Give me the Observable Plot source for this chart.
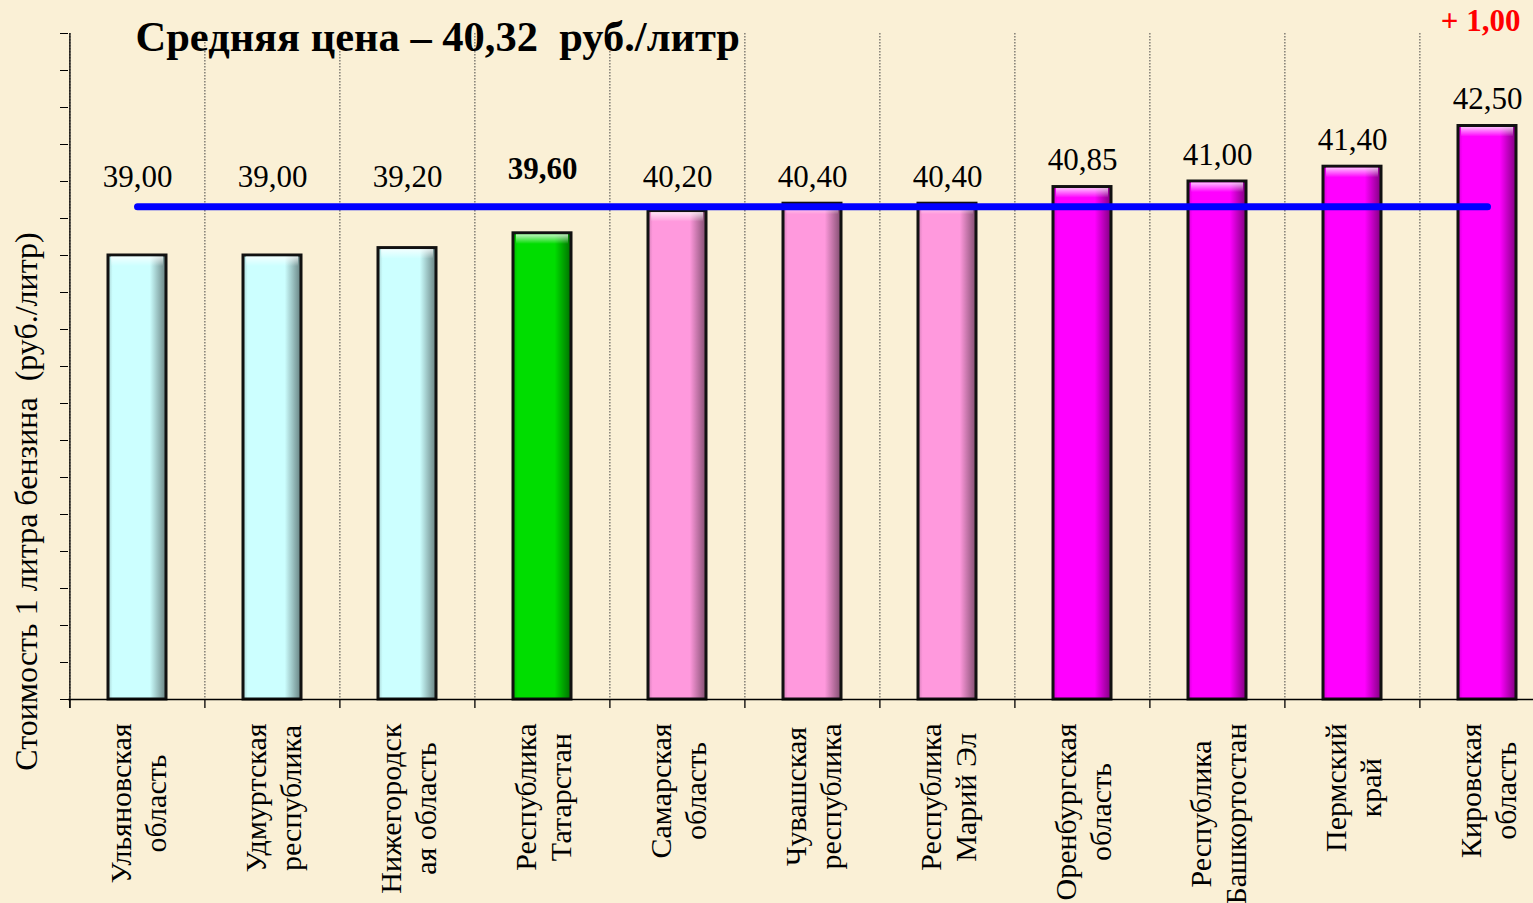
<!DOCTYPE html>
<html><head><meta charset="utf-8">
<script src="https://cdn.jsdelivr.net/npm/d3@7"></script>
<script src="https://cdn.jsdelivr.net/npm/@observablehq/plot@0.6"></script>
<style>
html,body{margin:0;padding:0;background:#faf0d6;overflow:hidden;}
#chart svg{display:block;}
</style></head><body><div id="chart"></div>
<script>
// ---- data ----
const regions = [
  "Ульяновская\nобласть",
  "Удмуртская\nреспублика",
  "Нижегородск\nая область",
  "Республика\nТатарстан",
  "Самарская\nобласть",
  "Чувашская\nреспублика",
  "Республика\nМарий Эл",
  "Оренбургская\nобласть",
  "Республика\nБашкортостан",
  "Пермский\nкрай",
  "Кировская\nобласть"
];
const prices = [39.00, 39.00, 39.20, 39.60, 40.20, 40.40, 40.40, 40.85, 41.00, 41.40, 42.50];
const groups = ["low","low","low","home","mid","mid","mid","high","high","high","high"];
const homeRegion = "Республика\nТатарстан";
const meanPrice = 40.32;
const deltaLabel = "+ 1,00";
const yTicks = d3.range(27, 46);
const titleText = "Средняя цена – " + meanPrice.toFixed(2).replace(".", ",") + "\u00a0\u00a0руб./литр";
const yLabel = "Стоимость 1 литра бензина\u00a0\u00a0(руб./литр)";

const baseColors = {low: "#ccffff", home: "#00dd00", mid: "#ff99dd", high: "#ff00ff"};

const rows = regions.map((r, i) => ({region: r, price: prices[i], group: groups[i]}));
const fmt = v => v.toFixed(2).replace(".", ",");

// ---- layout ----
const W = 1533, H = 903;
const mLeft = 68, mTop = 33, yBottom = 699;
const step = 135.2;
const xRange = [mLeft, mLeft + step * regions.length];

const ctx = document.createElement("canvas").getContext("2d");
const catFont = 30;
ctx.font = `${catFont}px 'Liberation Serif'`;
const maxW = r => d3.max(r.split("\n"), l => ctx.measureText(l).width);

const serif = "'Liberation Serif', 'Times New Roman', serif";

const catMarks = rows.map(d => Plot.text([d], {
  x: "region", frameAnchor: "bottom", text: "region", rotate: -90,
  textAnchor: "middle", lineAnchor: "middle", lineHeight: 1.17,
  fontSize: catFont, fill: "black", dy: 24 + maxW(d.region) / 2
}));

const chart = Plot.plot({
  width: W, height: H,
  marginLeft: mLeft, marginRight: 0, marginTop: mTop, marginBottom: H - yBottom,
  style: {background: "transparent", fontFamily: serif, overflow: "visible"},
  x: {domain: regions, range: xRange, paddingInner: 0.57, paddingOuter: 0.285, axis: null},
  y: {domain: [27, 45], range: [yBottom, mTop], axis: null, label: null},
  color: {type: "identity"},
  marks: [
    Plot.ruleX(regions, {x: d => d, dx: -step / 2, stroke: "#444", strokeWidth: 1, strokeDasharray: "1.5,1.5"}),
    Plot.ruleX(regions, {x: d => d, dx: -step / 2, stroke: "black", strokeWidth: 1.3, insetTop: yBottom - mTop, insetBottom: -9}),
    Plot.ruleX([regions[0]], {x: d => d, dx: -step / 2, stroke: "black", strokeWidth: 1.3, insetBottom: -9}),
    Plot.axisY({ticks: yTicks, tickFormat: () => "", tickSize: 8, tickPadding: 0, stroke: "black", label: null}),
    Plot.barY(rows, {x: "region", y1: 27, y2: "price", fill: d => `url(#grad-${d.group})`, stroke: "#111", strokeWidth: 3}),
    Plot.barY(rows, {x: "region", y1: d => d.price - 0.3, y2: "price", fill: "url(#grad-top)", insetLeft: 3, insetRight: 3, insetTop: 1.5}),
    Plot.ruleY([27], {stroke: "black", strokeWidth: 1.5}),
    Plot.line(regions, {x: d => d, y: () => meanPrice, stroke: "#0000ff", strokeWidth: 7, strokeLinecap: "round"}),
    Plot.text(rows.filter(d => d.region !== homeRegion), {x: "region", y: d => Math.max(d.price, 40.4), text: d => fmt(d.price), dy: -17, lineAnchor: "bottom", fontSize: 31, fill: "black"}),
    Plot.text(rows.filter(d => d.region === homeRegion), {x: "region", y: d => Math.max(d.price, 40.4), text: d => fmt(d.price), dy: -25, lineAnchor: "bottom", fontSize: 31, fontWeight: "bold", fill: "black"}),
    ...catMarks,
    Plot.text([titleText], {frameAnchor: "top-left", textAnchor: "start", lineAnchor: "bottom", dx: 67, dy: 17, fontSize: 42.5, fontWeight: "bold", fill: "black"}),
    Plot.text([deltaLabel], {frameAnchor: "top-right", textAnchor: "end", lineAnchor: "bottom", dx: -13, dy: -3, fontSize: 31, fontWeight: "bold", fill: "#ff0000"}),
    Plot.text([yLabel], {frameAnchor: "left", rotate: -90, textAnchor: "middle", lineAnchor: "middle", dx: -42, dy: 135, fontSize: 32, fill: "black"})
  ]
});

const svg = d3.select(chart);
const defs = svg.insert("defs", ":first-child");
const mix = (c, k) => d3.interpolateRgb(c, "black")(k);
for (const [g, c] of Object.entries(baseColors)) {
  const lg = defs.append("linearGradient").attr("id", `grad-${g}`).attr("x1", 0).attr("x2", 1).attr("y1", 0).attr("y2", 0);
  lg.append("stop").attr("offset", "0%").attr("stop-color", mix(c, 0.18));
  lg.append("stop").attr("offset", "8%").attr("stop-color", c);
  lg.append("stop").attr("offset", "72%").attr("stop-color", c);
  lg.append("stop").attr("offset", "100%").attr("stop-color", mix(c, 0.5));
}
const tg = defs.append("linearGradient").attr("id", "grad-top").attr("x1", 0).attr("x2", 0).attr("y1", 0).attr("y2", 1);
tg.append("stop").attr("offset", "0%").attr("stop-color", "white").attr("stop-opacity", 0.75);
tg.append("stop").attr("offset", "100%").attr("stop-color", "white").attr("stop-opacity", 0);

document.getElementById("chart").appendChild(chart);
</script>
</body></html>
